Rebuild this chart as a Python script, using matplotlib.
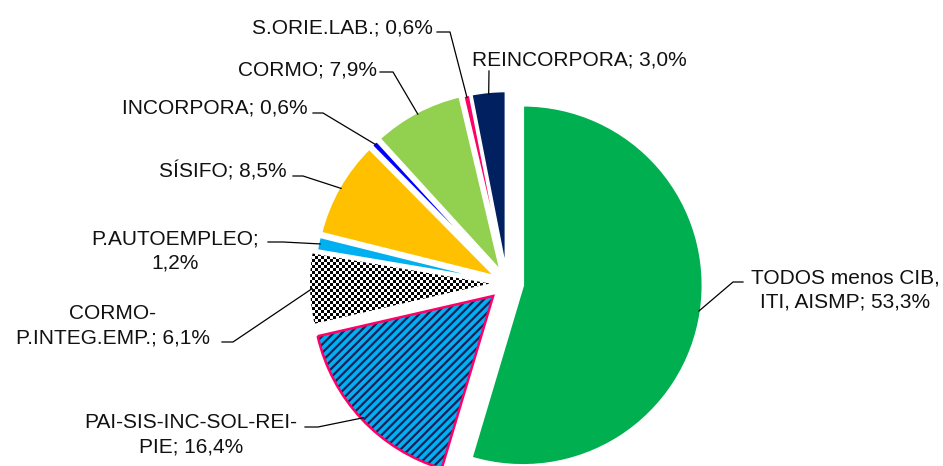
import numpy as np
import matplotlib
matplotlib.use("Agg")
import matplotlib.pyplot as plt
from matplotlib.patches import Wedge

plt.rcParams['font.family'] = ['Liberation Sans', 'DejaVu Sans']
plt.rcParams['hatch.linewidth'] = 1.6

# data
names = ["TODOS menos CIB,\nITI, AISMP", "PAI-SIS-INC-SOL-REI-\nPIE", "CORMO-\nP.INTEG.EMP.",
         "P.AUTOEMPLEO", "SÍSIFO", "INCORPORA", "CORMO", "S.ORIE.LAB.", "REINCORPORA"]
values = [53.3, 16.4, 6.1, 1.2, 8.5, 0.6, 7.9, 0.6, 3.0]
seps = ["; ", "; ", "; ", ";\n", "; ", "; ", "; ", "; ", "; "]
colors = ["#00B050", "#00B0F0", "#FFFFFF", "#00B0F0", "#FFC000",
          "#0000FF", "#92D050", "#FF0066", "#002060"]
explode = [16, 19, 17, 13, 13, 13, 13, 12, 12]

W, H = 943, 466

# label layout in screen pixels: text anchor, alignment, leader start, elbow
lab_pos = [(845, 290), (191, 435), (113, 326), (175, 251), (287, 177),
           (308, 113), (377, 75), (433, 33), (472, 66)]
lab_ha = ["center", "center", "center", "center", "right", "right", "right", "right", "left"]
lead_start = [(743, 282), (305, 427), (222, 342), (268, 242), (293, 176),
              (313, 113), (380, 72), (437, 32), (489, 71)]
lead_elbow = [(733, 282), (318, 427), (233, 342), (283, 242), (303, 176),
              (323, 113), (393, 72), (450, 32), (489, 71)]

fig = plt.figure(figsize=(W / 100, H / 100), dpi=100)
ax = fig.add_axes([0, 0, 1, 1])
ax.set_xlim(0, W)
ax.set_ylim(0, H)
ax.set_aspect("equal")
ax.axis("off")

wedges, _ = ax.pie(values, colors=colors, explode=explode, startangle=90,
                   counterclock=False, center=(507, H - 283), radius=180,
                   wedgeprops=dict(edgecolor="white", linewidth=1.8))

# PAI slice: blue with dark stripes and pink border
pai = wedges[1]
pai.set_edgecolor("none")
ax.add_patch(Wedge(pai.center, pai.r, pai.theta1, pai.theta2, fill=False,
                   hatch="////", edgecolor="#14205A", linewidth=0, zorder=3))
ax.add_patch(Wedge(pai.center, pai.r, pai.theta1, pai.theta2, fill=False,
                   edgecolor="#FF0066", linewidth=1.8, zorder=4))

# checkerboard slice
chk = wedges[2]
cell = 3
ii, jj = np.indices((H // cell + 1, W // cell + 1))
board = (ii + jj) % 2
im = ax.imshow(board, cmap="gray", extent=(0, (W // cell + 1) * cell, 0, (H // cell + 1) * cell),
               origin="lower", interpolation="nearest", zorder=2)
im.set_clip_path(chk)
ax.set_xlim(0, W)
ax.set_ylim(0, H)

for i, w in enumerate(wedges):
    tm = np.deg2rad((w.theta1 + w.theta2) / 2)
    px = w.center[0] + (w.r - 2) * np.cos(tm)
    py = w.center[1] + (w.r - 2) * np.sin(tm)
    sx, sy = lead_start[i]
    ex, ey = lead_elbow[i]
    ax.plot([sx, ex, px], [H - sy, H - ey, py], color="black", lw=0.9, zorder=5)
    txt = names[i] + seps[i] + f"{values[i]:.1f}".replace(".", ",") + "%"
    tx, ty = lab_pos[i]
    va = "center" if lab_ha[i] == "center" else "baseline"
    ax.text(tx, H - ty, txt, ha=lab_ha[i], va=va, fontsize=15,
            multialignment="center", linespacing=1.36, color="#111111", zorder=6)

fig.savefig("out.png", dpi=100)
